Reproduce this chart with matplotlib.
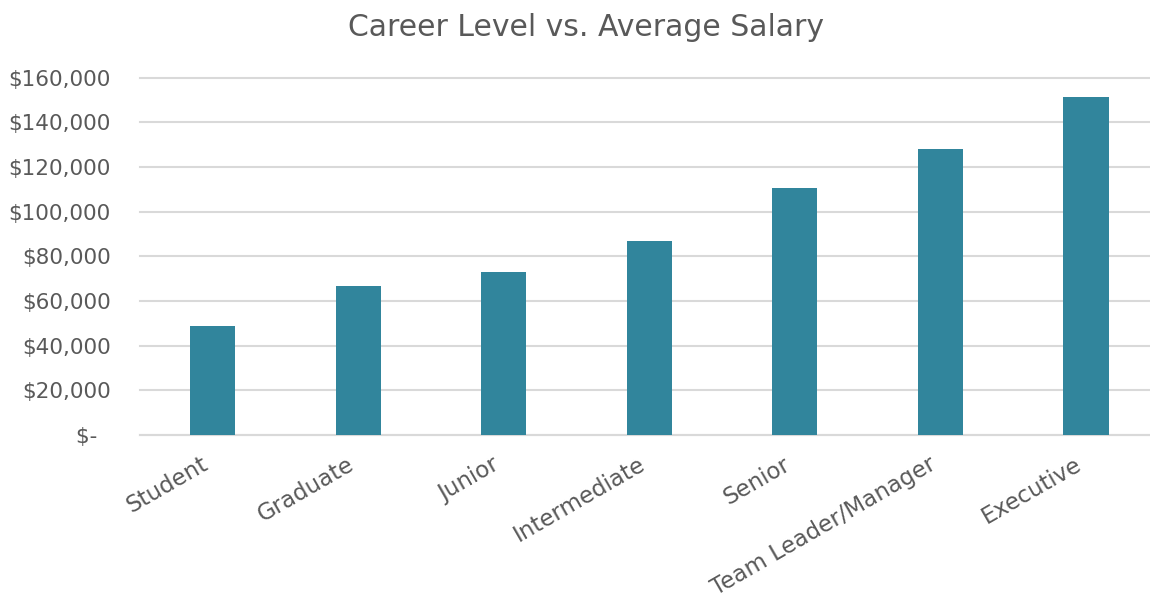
import matplotlib
matplotlib.use("Agg")
import matplotlib.pyplot as plt
import matplotlib.transforms as mtransforms
from matplotlib.ticker import FuncFormatter

CHART_TITLE = "Career Level vs. Average Salary"
career_levels = ["Student", "Graduate", "Junior", "Intermediate", "Senior",
                 "Team Leader/Manager", "Executive"]
avg_salary = [48800, 66900, 73000, 86900, 110600, 128000, 151400]
y_ticks = [0, 20000, 40000, 60000, 80000, 100000, 120000, 140000, 160000]

BAR_COLOR = "#31859C"
GRID_COLOR = "#D9D9D9"
TEXT_COLOR = "#595959"
W, H = 1150, 604

plt.rcParams["font.family"] = ["DejaVu Sans"]

fig = plt.figure(figsize=(W / 100, H / 100), dpi=100)
# plot area in pixels: x 139.7 .. 1158.8 (runs past the right edge), y 77.7 .. 435
ax = fig.add_axes([139.7 / W, (H - 435) / H, (1158.8 - 139.7) / W, (435 - 77.7) / H])

xs = list(range(len(career_levels)))
ax.bar(xs, avg_salary, width=0.31, color=BAR_COLOR, zorder=3)

ax.set_xlim(-0.5, len(career_levels) - 0.5)
ax.set_ylim(0, 160000)
ax.set_yticks(y_ticks)


def money(v, pos):
  if v == 0:
    return "$-  "
  return "${:,.0f}".format(v)


ax.yaxis.set_major_formatter(FuncFormatter(money))
ax.grid(axis="y", color=GRID_COLOR, linewidth=1.5, zorder=0)
for line in ax.get_ygridlines():
  line.set_clip_on(False)
for side in ["left", "right", "top"]:
  ax.spines[side].set_visible(False)
ax.spines["bottom"].set_color(GRID_COLOR)
ax.spines["bottom"].set_linewidth(1.5)

ax.tick_params(axis="y", length=0, pad=21, labelsize=15.5, labelcolor=TEXT_COLOR)
ax.tick_params(axis="x", length=0, pad=20, labelsize=16.5, labelcolor=TEXT_COLOR)
ax.set_xticks(xs)
ax.set_xticklabels(career_levels, rotation=30, ha="right", va="center",
                   rotation_mode="anchor")
# nudge the slanted labels a little to the left
shift = mtransforms.ScaledTranslation(-6 / 100, 0, fig.dpi_scale_trans)
for lbl in ax.get_xticklabels():
  lbl.set_transform(lbl.get_transform() + shift)

fig.text(586 / W, 1 - 27 / H, CHART_TITLE, ha="center", va="center",
         fontsize=21.5, color=TEXT_COLOR)

fig.savefig("out.png", dpi=100)
